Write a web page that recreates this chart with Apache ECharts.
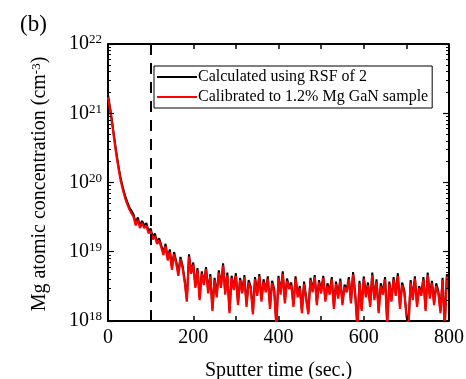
<!DOCTYPE html>
<html>
<head>
<meta charset="utf-8">
<script src="https://cdn.jsdelivr.net/npm/echarts@6/dist/echarts.min.js"></script>
<style>
  html, body { margin: 0; padding: 0; background: #fff; }
  #chart { width: 466px; height: 379px; }
</style>
</head>
<body>
<div id="chart"></div>
<script>
// Sputter time (sec.)
const sputterTime = [
  0, 5, 10, 15, 20, 25, 30, 35, 40, 45,
  50, 55, 60, 65, 70, 75, 80, 85, 90, 95,
  100, 105, 110, 115, 120, 125, 130, 135, 140, 145,
  150, 155, 160, 165, 170, 175, 180, 185, 190, 195,
  200, 205, 210, 215, 220, 225, 230, 235, 240, 245,
  250, 255, 260, 265, 270, 275, 280, 285, 290, 295,
  300, 305, 310, 315, 320, 325, 330, 335, 340, 345,
  350, 355, 360, 365, 370, 375, 380, 385, 390, 395,
  400, 405, 410, 415, 420, 425, 430, 435, 440, 445,
  450, 455, 460, 465, 470, 475, 480, 485, 490, 495,
  500, 505, 510, 515, 520, 525, 530, 535, 540, 545,
  550, 555, 560, 565, 570, 575, 580, 585, 590, 595,
  600, 605, 610, 615, 620, 625, 630, 635, 640, 645,
  650, 655, 660, 665, 670, 675, 680, 685, 690, 695,
  700, 705, 710, 715, 720, 725, 730, 735, 740, 745,
  750, 755, 760, 765, 770, 775, 780, 785, 790, 795,
  800
];

// Calculated using RSF of 2 (cm^-3)
const calculatedRsf = [
  1.84e21, 1.19e21, 7.3e20, 4.3e20, 2.6e20, 1.67e20, 1.13e20, 8.4e19, 6.5e19, 5.3e19,
  4.4e19, 3.9e19, 3.45e19, 2.6e19, 3.13e19, 2.38e19, 2.8e19, 2.38e19, 2.6e19, 2.0e19,
  2.16e19, 1.62e19, 1.84e19, 1.4e19, 1.57e19, 1.24e19, 9.7e18, 1.3e19, 8.1e18, 1.08e19,
  5.9e18, 9.9e18, 7.3e18, 4.9e18, 8.4e18, 6.3e18, 3.9e18, 2.05e18, 9.2e18, 5.2e18,
  7.0e18, 3.2e18, 5.8e18, 2.16e18, 5.2e18, 3.6e18, 6.0e18, 2.7e18, 4.75e18, 1.5e18,
  4.2e18, 2.4e18, 5.4e18, 3.2e18, 6.8e18, 2.6e18, 5.0e18, 1.4e18, 4.5e18, 3.0e18,
  4.9e18, 1.84e18, 4.2e18, 2.7e18, 4.6e18, 1.73e18, 3.9e18, 3.1e18, 1.35e18, 4.3e18,
  2.5e18, 4.75e18, 2.05e18, 4.0e18, 2.8e18, 4.4e18, 1.62e18, 3.8e18, 2.9e18, 0.86e18,
  4.5e18, 2.6e18, 5.2e18, 1.94e18, 4.1e18, 3.1e18, 3.6e18, 1.73e18, 4.4e18, 2.4e18,
  3.2e18, 1.4e18, 3.7e18, 2.16e18, 1.35e18, 4.2e18, 2.8e18, 4.6e18, 1.84e18, 3.9e18,
  2.7e18, 4.5e18, 2.05e18, 3.5e18, 2.6e18, 4.3e18, 1.62e18, 3.7e18, 2.3e18, 4.1e18,
  1.84e18, 3.35e18, 2.8e18, 4.3e18, 1.94e18, 5.1e18, 2.5e18, 0.86e18, 3.8e18, 1.5e18,
  4.4e18, 2.4e18, 3.6e18, 1.73e18, 5.0e18, 2.16e18, 4.0e18, 1.4e18, 3.5e18, 2.6e18,
  4.3e18, 0.97e18, 3.7e18, 2.05e18, 4.3e18, 2.5e18, 4.9e18, 1.62e18, 3.6e18, 2.8e18,
  1.3e18, 0.92e18, 3.9e18, 2.16e18, 4.4e18, 1.73e18, 3.2e18, 2.5e18, 4.3e18, 1.5e18,
  5.0e18, 2.3e18, 3.8e18, 1.84e18, 3.5e18, 2.7e18, 1.4e18, 4.2e18, 0.86e18, 4.75e18,
  3.0e18
];

// Calibrated to 1.2% Mg GaN sample (cm^-3)
const calibratedGaN = [
  1.7e21, 1.1e21, 6.8e20, 4.0e20, 2.4e20, 1.55e20, 1.05e20, 7.8e19, 6.0e19, 4.9e19,
  4.1e19, 3.6e19, 3.2e19, 2.4e19, 2.9e19, 2.2e19, 2.6e19, 2.2e19, 2.4e19, 1.85e19,
  2.0e19, 1.5e19, 1.7e19, 1.3e19, 1.45e19, 1.15e19, 9.0e18, 1.2e19, 7.5e18, 1.0e19,
  5.5e18, 9.2e18, 6.8e18, 4.5e18, 7.8e18, 5.8e18, 3.6e18, 1.9e18, 8.5e18, 4.8e18,
  6.5e18, 3.0e18, 5.4e18, 2.0e18, 4.8e18, 3.3e18, 5.6e18, 2.5e18, 4.4e18, 1.4e18,
  3.9e18, 2.2e18, 5.0e18, 3.0e18, 6.3e18, 2.4e18, 4.6e18, 1.3e18, 4.2e18, 2.8e18,
  4.5e18, 1.7e18, 3.9e18, 2.5e18, 4.3e18, 1.6e18, 3.6e18, 2.9e18, 1.25e18, 4.0e18,
  2.3e18, 4.4e18, 1.9e18, 3.7e18, 2.6e18, 4.1e18, 1.5e18, 3.5e18, 2.7e18, 0.8e18,
  4.2e18, 2.4e18, 4.8e18, 1.8e18, 3.8e18, 2.9e18, 3.3e18, 1.6e18, 4.1e18, 2.2e18,
  3.0e18, 1.3e18, 3.4e18, 2.0e18, 1.25e18, 3.9e18, 2.6e18, 4.3e18, 1.7e18, 3.6e18,
  2.5e18, 4.2e18, 1.9e18, 3.2e18, 2.4e18, 4.0e18, 1.5e18, 3.4e18, 2.1e18, 3.8e18,
  1.7e18, 3.1e18, 2.6e18, 4.0e18, 1.8e18, 4.7e18, 2.3e18, 0.8e18, 3.5e18, 1.4e18,
  4.1e18, 2.2e18, 3.3e18, 1.6e18, 4.6e18, 2.0e18, 3.7e18, 1.3e18, 3.2e18, 2.4e18,
  4.0e18, 0.9e18, 3.4e18, 1.9e18, 4.0e18, 2.3e18, 4.5e18, 1.5e18, 3.3e18, 2.6e18,
  1.2e18, 0.85e18, 3.6e18, 2.0e18, 4.1e18, 1.6e18, 3.0e18, 2.3e18, 4.0e18, 1.4e18,
  4.6e18, 2.1e18, 3.5e18, 1.7e18, 3.2e18, 2.5e18, 1.3e18, 3.9e18, 0.8e18, 4.4e18,
  2.8e18
];

const xTickValues = [100, 200, 300, 400, 500, 600, 700];
const yMajorTicks = [1e18, 1e19, 1e20, 1e21, 1e22];
const yMinorTicks = [
  2e18, 3e18, 4e18, 5e18, 6e18, 7e18, 8e18, 9e18,
  2e19, 3e19, 4e19, 5e19, 6e19, 7e19, 8e19, 9e19,
  2e20, 3e20, 4e20, 5e20, 6e20, 7e20, 8e20, 9e20,
  2e21, 3e21, 4e21, 5e21, 6e21, 7e21, 8e21, 9e21
];
const markerTime = 100;

const LABELS = {
  panel: '(b)',
  calculated: 'Calculated using RSF of 2',
  calibrated: 'Calibrated to 1.2% Mg GaN sample',
  xName: 'Sputter time (sec.)',
  yName: '{a|Mg atomic concentration (cm}{s|-3}{a|)}',
};

const FONT = 'Liberation Serif';
const black = '#000';
const X_MIN = 0;
const X_MAX = 800;
const Y_MIN = 1e18;
const Y_MAX = 1e22;

// tick lengths expressed in axis units (about 6px / 3px across, 5px up)
const TICK_SEC_MAJOR = 14;
const TICK_SEC_MINOR = 7;
const TICK_FACTOR_X = 1.18;

const chart = echarts.init(document.getElementById('chart'));

const expLabel = (value) => '{b|10}{e|' + Math.round(Math.log10(value)) + '}';

const seg = (x1, y1, x2, y2, width) => [
  { coord: [x1, y1], lineStyle: { color: black, width: width, type: 'solid' } },
  { coord: [x2, y2] },
];

// inside ticks on all four sides + right frame edge
const frameTicks = [];
yMajorTicks.forEach((v) => {
  frameTicks.push(seg(X_MIN, v, X_MIN + TICK_SEC_MAJOR, v, 1.2));
  frameTicks.push(seg(X_MAX, v, X_MAX - TICK_SEC_MAJOR, v, 1.2));
});
yMinorTicks.forEach((v) => {
  frameTicks.push(seg(X_MIN, v, X_MIN + TICK_SEC_MINOR, v, 1));
  frameTicks.push(seg(X_MAX, v, X_MAX - TICK_SEC_MINOR, v, 1));
});
xTickValues.forEach((t) => {
  frameTicks.push(seg(t, Y_MIN, t, Y_MIN * TICK_FACTOR_X, 1.5));
  frameTicks.push(seg(t, Y_MAX, t, Y_MAX / TICK_FACTOR_X, 1.5));
});
frameTicks.push(seg(X_MAX, Y_MIN, X_MAX, Y_MAX, 2));

const xAxisBase = (position) => ({
  type: 'value',
  position: position,
  min: X_MIN,
  max: X_MAX,
  interval: 100,
  axisLine: { show: true, onZero: false, lineStyle: { color: black, width: 2 } },
  axisTick: { show: false },
  splitLine: { show: false },
});

const option = {
  animation: false,
  title: {
    text: LABELS.panel,
    left: 15,
    top: 8,
    textStyle: { fontFamily: FONT, fontSize: 23, fontWeight: 'normal', color: black },
  },
  graphic: {
    elements: [{
      type: 'text',
      x: 40,
      y: 184,
      rotation: Math.PI / 2,
      silent: true,
      style: {
        text: LABELS.yName,
        align: 'center',
        verticalAlign: 'middle',
        rich: {
          a: { fontFamily: FONT, fontSize: 20, fill: black },
          s: { fontFamily: FONT, fontSize: 13, fill: black, verticalAlign: 'top' },
        },
      },
    }],
  },
  legend: {
    data: [LABELS.calculated, LABELS.calibrated],
    orient: 'vertical',
    left: 154,
    top: 66,
    padding: [3, 4, 3, 3],
    itemGap: 4,
    icon: 'rect',
    itemWidth: 40,
    itemHeight: 2,
    borderColor: black,
    borderWidth: 1,
    borderRadius: 0,
    backgroundColor: '#fff',
    textStyle: { fontFamily: FONT, fontSize: 16, color: black, padding: [0, 0, 0, -4] },
  },
  grid: { left: 108, right: 17, top: 44, bottom: 58, outerBoundsMode: 'none', containLabel: false },
  xAxis: [
    Object.assign(xAxisBase('bottom'), {
      name: LABELS.xName,
      nameLocation: 'middle',
      nameGap: 40,
      nameTextStyle: { fontFamily: FONT, fontSize: 20, color: black },
      axisLabel: {
        margin: 7,
        fontFamily: FONT,
        fontSize: 20,
        color: black,
        formatter: (v) => (v % 200 === 0 ? String(v) : ''),
      },
    }),
    Object.assign(xAxisBase('top'), { axisLabel: { show: false } }),
  ],
  yAxis: [{
    type: 'log',
    logBase: 10,
    position: 'left',
    min: Y_MIN,
    max: Y_MAX,
    axisLine: { show: true, onZero: false, lineStyle: { color: black, width: 2 } },
    axisTick: { show: false },
    axisLabel: {
      customValues: yMajorTicks,
      margin: 6,
      formatter: expLabel,
      rich: {
        b: { fontSize: 20, fontFamily: FONT, color: black },
        e: { fontSize: 13, fontFamily: FONT, color: black, verticalAlign: 'top', padding: [0, 0, 8, 0] },
      },
    },
    splitLine: { show: false },
  }],
  series: [
    {
      name: LABELS.calculated,
      type: 'line',
      data: sputterTime.map((t, i) => [t, calculatedRsf[i]]),
      symbol: 'none',
      lineStyle: { color: black, width: 2 },
      itemStyle: { color: black },
      markLine: {
        silent: true,
        symbol: 'none',
        label: { show: false },
        emphasis: { disabled: true },
        lineStyle: { color: black, width: 1.2, type: 'solid' },
        data: frameTicks,
      },
    },
    {
      name: LABELS.calibrated,
      type: 'line',
      data: sputterTime.map((t, i) => [t, calibratedGaN[i]]),
      symbol: 'none',
      lineStyle: { color: '#ff0000', width: 2.2 },
      itemStyle: { color: '#ff0000' },
      markLine: {
        silent: true,
        symbol: 'none',
        label: { show: false },
        lineStyle: { color: black, type: [11, 8], width: 2 },
        data: [{ xAxis: markerTime }],
      },
    },
  ],
};

chart.setOption(option);
</script>
</body>
</html>
